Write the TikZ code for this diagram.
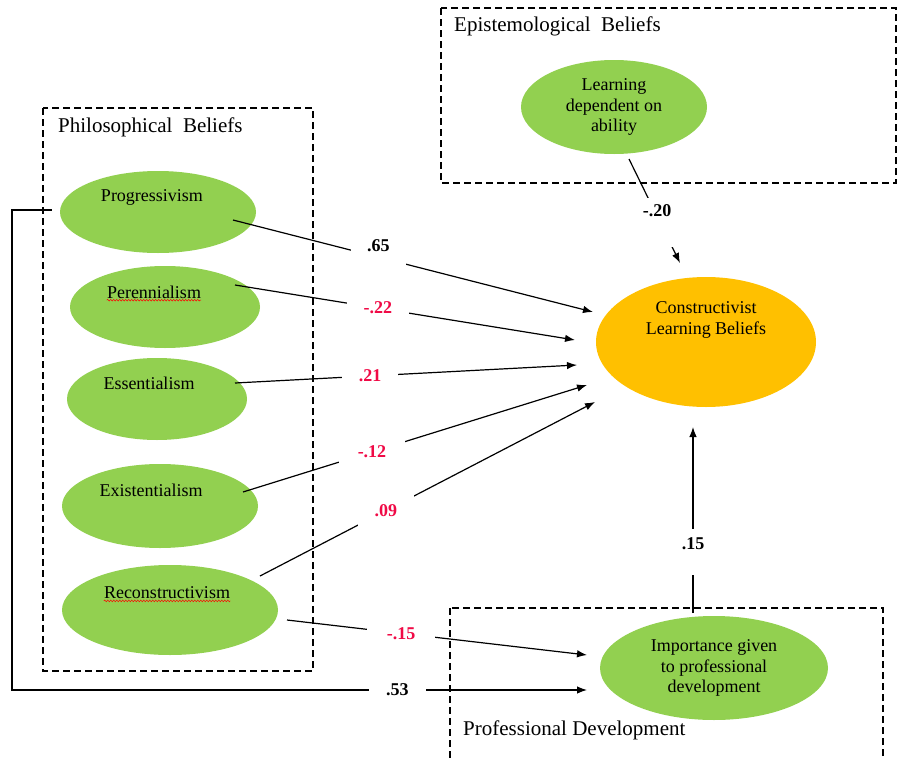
\documentclass[tikz,border=0pt]{standalone}
\usepackage{fontspec}
\setmainfont{Liberation Serif}
\usetikzlibrary{shapes.geometric,arrows.meta,calc,decorations.pathmorphing}
\definecolor{ellgreen}{RGB}{146,208,80}
\definecolor{ellgold}{RGB}{255,192,0}
\definecolor{coefred}{RGB}{240,10,70}
\newcommand{\ellfont}{\fontsize{18}{20.5}\selectfont}
\begin{document}
\begin{tikzpicture}[x=1pt,y=-1pt,
    latent/.style={ellipse,fill=ellgreen,inner sep=0pt,align=center,font=\ellfont},
    every label/.style={font=\ellfont,inner sep=0pt},
    grpbox/.style={line width=1.1pt,dash pattern=on 7pt off 4pt},
    grptitle/.style={anchor=west,inner sep=0pt,font=\fontsize{21}{24}\selectfont},
    link/.style={line width=1.2pt,-{Latex[length=10pt,width=7.5pt]}},
    coef/.style={fill=white,inner xsep=17pt,inner ysep=9pt,font=\fontsize{18}{20}\selectfont\bfseries},
    spell/.style={decorate,decoration={snake,amplitude=0.8pt,segment length=3pt},red,line width=0.5pt}]
    \clip (0,0) rectangle (898,758);
    \draw[grpbox] (43,108) rectangle (313,671);
    \draw[grpbox] (441,8) rectangle (896,183);
    \draw[grpbox] (450,608) rectangle (883,790);
    \node[grptitle] (philtitle) at (58,127) {Philosophical\ \ Beliefs};
    \node[grptitle] (epititle) at (454,26) {Epistemological\ \ Beliefs};
    \node[grptitle] (protitle) at (463,730) {Professional Development};
    \node[latent,minimum width=196,minimum height=82,label={[xshift=-6pt,yshift=15pt]center:Progressivism}] (prog) at (158,212) {};
    \node[latent,minimum width=190,minimum height=82,label={[name=perlbl,xshift=-11pt,yshift=15pt]center:Perennialism}] (per) at (165,307) {};
    \node[latent,minimum width=180,minimum height=82,label={[xshift=-8pt,yshift=16pt]center:Essentialism}] (ess) at (157,399) {};
    \node[latent,minimum width=196,minimum height=84,label={[xshift=-9pt,yshift=16pt]center:Existentialism}] (exi) at (160,506) {};
    \node[latent,minimum width=216,minimum height=90,label={[name=reclbl,xshift=-3pt,yshift=17pt]center:Reconstructivism}] (rec) at (170,610) {};
    \node[latent,minimum width=186,minimum height=94] (ldep) at (614,107) {Learning\\dependent on\\ability};
    \node[latent,fill=ellgold,minimum width=220,minimum height=130,label={[yshift=22pt,align=center]center:Constructivist\\Learning Beliefs}] (clb) at (706,342) {};
    \node[latent,minimum width=228,minimum height=104] (imp) at (714,668) {Importance given\\to professional\\development};
    \coordinate (bend) at (12,690);
    \draw[spell] ([yshift=-2pt]perlbl.base west) -- ([yshift=-2pt]perlbl.base east);
    \draw[spell] ([yshift=-2pt]reclbl.base west) -- ([yshift=-2pt]reclbl.base east);
    \draw[link] ($(prog)+(75,8)$) -- node[coef,pos=0.404,yshift=12pt,inner ysep=14pt,inner xsep=16pt] {.65} ($(clb)+(-113,-30)$);
    \draw[link] ($(per)+(70,-22)$) -- node[coef,pos=0.42,text=coefred] {-.22} ($(clb)+(-131,-2)$);
    \draw[link] ($(ess)+(78,-16)$) -- node[coef,pos=0.395,text=coefred] {.21} ($(clb)+(-129,23)$);
    \draw[link] ($(exi)+(83,-14)$) -- node[coef,pos=0.375,inner xsep=19pt,text=coefred] {-.12} ($(clb)+(-119,43)$);
    \draw[link] ($(rec)+(90,-34)$) -- node[coef,pos=0.376,text=coefred] {.09} ($(clb)+(-111,60)$);
    \draw[link] ($(rec)+(117,10)$) -- node[coef,pos=0.38,inner xsep=20pt,text=coefred] {-.15} ($(imp)+(-127,-13)$);
    \draw[link] ($(prog.west)+(-8,-2)$) -| (bend) -- node[coef,pos=0.67] {.53} ($(imp)+(-127,22)$);
    \draw[link] ($(ldep)+(15,52)$) -- node[coef,pos=0.55,anchor=base,inner ysep=6.5pt,text depth=24.5pt] {-.20} ($(clb)+(-26,-79)$);
    \draw[link] ($(imp)+(-21,-55)$) -- node[coef,pos=0.344,anchor=base,inner ysep=8.5pt,text depth=17.5pt] {.15} ($(clb)+(-13,85)$);
\end{tikzpicture}
\end{document}
